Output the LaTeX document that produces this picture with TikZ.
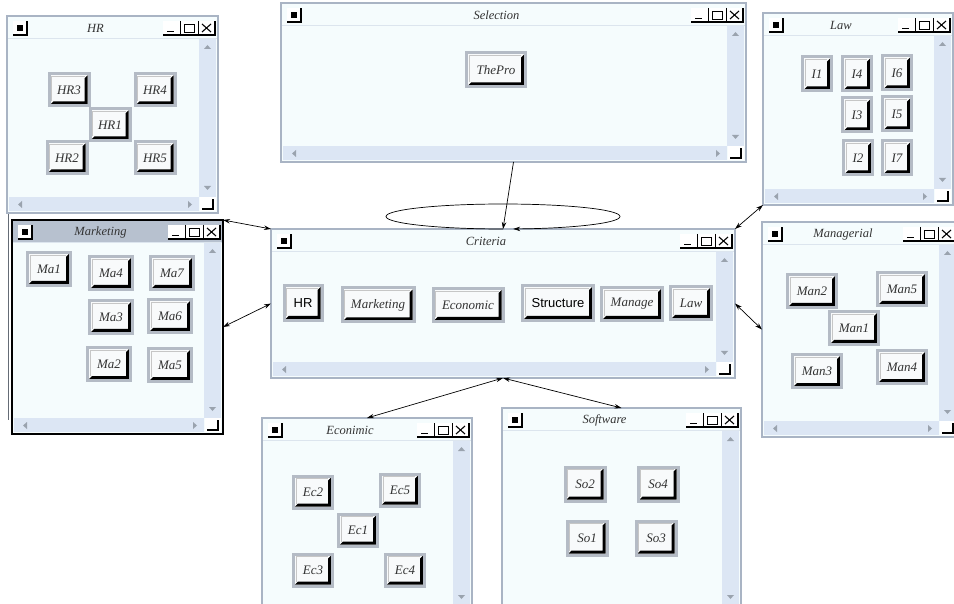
\documentclass[tikz,border=0pt]{standalone}
\usepackage{fontspec}
\setmainfont{Liberation Serif}
\newfontfamily\arialfont{Liberation Sans}
\usetikzlibrary{arrows.meta}
\definecolor{winbg}{HTML}{F5FCFD}
\definecolor{framecol}{HTML}{A9B4C4}
\definecolor{sepcol}{HTML}{DCE5EE}
\definecolor{trackcol}{HTML}{DCE6F4}
\definecolor{btnedge}{HTML}{B4BBC5}
\definecolor{btnface}{HTML}{F8FAFB}
\definecolor{btntext}{HTML}{333333}
\definecolor{mkttitle}{HTML}{B7C1CF}
\definecolor{arrowgray}{HTML}{9AA3AE}
\tikzset{
  win/.style={draw=framecol, line width=2pt, fill=winbg, inner sep=0pt, outer sep=0pt},
  wintitle/.style={font=\itshape\fontsize{12.5}{13}\selectfont, text=btntext, inner sep=0pt},
  btn/.style={draw=btnedge, line width=3pt, fill=btnface, inner sep=0pt, outer sep=0pt,
    font=\itshape\fontsize{13}{13}\selectfont, text=btntext,
    path picture={
      \draw[gray!45, line width=0.8pt]
        ([xshift=2.6pt,yshift=4.5pt]path picture bounding box.south west) --
        ([xshift=2.6pt,yshift=-2.6pt]path picture bounding box.north west) --
        ([xshift=-4.5pt,yshift=-2.6pt]path picture bounding box.north east);
      \fill[black]
        ([xshift=-1.5pt,yshift=-1.5pt]path picture bounding box.north east) --
        ([xshift=-1.5pt,yshift=1.5pt]path picture bounding box.south east) --
        ([xshift=1.5pt,yshift=1.5pt]path picture bounding box.south west) --
        ([xshift=4.5pt,yshift=4.5pt]path picture bounding box.south west) --
        ([xshift=-4.5pt,yshift=4.5pt]path picture bounding box.south east) --
        ([xshift=-4.5pt,yshift=-4.5pt]path picture bounding box.north east) -- cycle;
    }},
  sansbtn/.style={font=\arialfont\fontsize{13}{13}\selectfont, text=black},
  hrb/.style={btn, minimum width=40pt, minimum height=32pt},
  lawb/.style={btn, minimum width=29pt, minimum height=34pt},
  mab/.style={btn, minimum width=43pt, minimum height=33pt},
  manb/.style={btn, minimum width=49pt, minimum height=33pt},
  ecb/.style={btn, minimum width=39pt, minimum height=32pt},
  sob/.style={btn, minimum width=40pt, minimum height=34pt},
  link/.style={line width=0.7pt, {Stealth[length=7pt,width=4.5pt]}-{Stealth[length=7pt,width=4.5pt]}},
  onelink/.style={line width=0.7pt, -{Stealth[length=7pt,width=4.5pt]}},
}
% #1 name, #2 x1, #3 y1, #4 x2, #5 y2, #6 title, #7 title bar colour
\newcommand{\drawwin}[7]{%
  \node[win, minimum width={(#4-#2)*1pt}, minimum height={(#5-#3)*1pt}] (#1) at ({(#2+#4)/2},{(#3+#5)/2}) {};
  \fill[#7] ({#2+1},{#3+1}) rectangle ({#4-1},{#3+22});
  \draw[sepcol, line width=1pt] ({#2+1},{#3+22.5}) -- ({#4-1},{#3+22.5});
  \node[wintitle] (#1-title) at ({(#2+#4)/2-17},{#3+12}) {#6};
  \fill[white] ({#2+6},{#3+5}) rectangle ({#2+20},{#3+19});
  \draw[black, line width=1.2pt] ({#2+6},{#3+19}) -- ({#2+20},{#3+19}) -- ({#2+20},{#3+5});
  \fill[black] ({#2+10},{#3+9}) rectangle ({#2+16},{#3+15});
  \fill[white] ({#4-55},{#3+5}) rectangle ({#4-3},{#3+19});
  \draw[black, line width=1.2pt] ({#4-55},{#3+19}) -- ({#4-3},{#3+19}) -- ({#4-3},{#3+5});
  \draw[black, line width=1pt] ({#4-38},{#3+5}) -- ({#4-38},{#3+19}) ({#4-20},{#3+5}) -- ({#4-20},{#3+19});
  \draw[black, line width=1.8pt] ({#4-51},{#3+15.5}) -- ({#4-44},{#3+15.5});
  \draw[black, line width=0.9pt] ({#4-34},{#3+8}) rectangle ({#4-24},{#3+16});
  \draw[black, line width=1.8pt] ({#4-34},{#3+8.5}) -- ({#4-24},{#3+8.5});
  \draw[black, line width=1.1pt] ({#4-16},{#3+8}) -- ({#4-7},{#3+16}) ({#4-16},{#3+16}) -- ({#4-7},{#3+8});
  \fill[trackcol] ({#4-19},{#3+23}) rectangle ({#4-2},{#5-16});
  \fill[arrowgray] ({#4-14},{#3+33}) -- ({#4-7},{#3+33}) -- ({#4-10.5},{#3+29}) -- cycle;
  \fill[arrowgray] ({#4-14},{#5-27}) -- ({#4-7},{#5-27}) -- ({#4-10.5},{#5-23}) -- cycle;
  \fill[trackcol] ({#2+2},{#5-16}) rectangle ({#4-19},{#5-2});
  \fill[arrowgray] ({#2+15},{#5-12}) -- ({#2+15},{#5-5}) -- ({#2+11},{#5-8.5}) -- cycle;
  \fill[arrowgray] ({#4-30},{#5-12}) -- ({#4-30},{#5-5}) -- ({#4-26},{#5-8.5}) -- cycle;
  \fill[white] ({#4-18},{#5-16}) rectangle ({#4-2},{#5-2});
  \draw[black, line width=1.3pt] ({#4-16},{#5-4}) -- ({#4-5},{#5-4}) -- ({#4-5},{#5-14});
}
\begin{document}
\begin{tikzpicture}[x=1pt,y=-1pt]
\useasboundingbox (0,0) rectangle (954,604);
\clip (0,0) rectangle (954,604);
\fill[white] (0,0) rectangle (954,604);

% ---------- windows ----------
\drawwin{hrw}{7}{16}{218}{213}{HR}{winbg}
\drawwin{selw}{281}{3}{746}{162}{Selection}{winbg}
\drawwin{laww}{763}{13}{953}{205}{Law}{winbg}
\drawwin{mktw}{12}{220}{223}{434}{Marketing}{mkttitle}
\draw[black, line width=2.5pt] (mktw.north west) rectangle (mktw.south east);
\draw[framecol!60!black, line width=0.8pt] (8,214) -- (8,420);
\drawwin{critw}{271}{229}{735}{378}{Criteria}{winbg}
\drawwin{manw}{762}{222}{958}{437}{Managerial}{winbg}
\drawwin{ecow}{262}{418}{472}{622}{Econimic}{winbg}
\drawwin{sofw}{502}{408}{741}{622}{Software}{winbg}

% ---------- HR ----------
\node[hrb] (hr3) at (69,90) {HR3};
\node[hrb] (hr4) at (155,90) {HR4};
\node[hrb] (hr1) at (110,125) {HR1};
\node[hrb] (hr2) at (67,158) {HR2};
\node[hrb] (hr5) at (155,158) {HR5};

% ---------- Selection ----------
\node[btn, minimum width=59pt, minimum height=34pt] (thepro) at (496,70) {ThePro};

% ---------- Law ----------
\node[lawb] (l1) at (817,74) {I1};
\node[lawb] (l4) at (857,74) {I4};
\node[lawb] (l6) at (897,73) {I6};
\node[lawb] (l3) at (857,115) {I3};
\node[lawb] (l5) at (897,114) {I5};
\node[lawb] (l2) at (858,158) {I2};
\node[lawb] (l7) at (897,158) {I7};

% ---------- Marketing ----------
\node[mab] (ma1) at (49,269) {Ma1};
\node[mab] (ma4) at (111,273) {Ma4};
\node[mab] (ma7) at (172,273) {Ma7};
\node[mab] (ma3) at (111,317) {Ma3};
\node[mab] (ma6) at (170,316) {Ma6};
\node[mab] (ma2) at (109,364) {Ma2};
\node[mab] (ma5) at (170,365) {Ma5};

% ---------- Criteria ----------
\node[btn, sansbtn, minimum width=38pt, minimum height=35pt] (chr) at (303,303) {HR};
\node[btn, minimum width=72pt, minimum height=34pt] (cmkt) at (378,305) {Marketing};
\node[btn, minimum width=70pt, minimum height=33pt] (ceco) at (468,305) {Economic};
\node[btn, sansbtn, minimum width=71pt, minimum height=35pt] (cstr) at (558,303) {Structure};
\node[btn, minimum width=61pt, minimum height=33pt] (cman) at (632,304) {Manage};
\node[btn, minimum width=41pt, minimum height=33pt] (claw) at (691,303) {Law};

% ---------- Managerial ----------
\node[manb] (man2) at (812,291) {Man2};
\node[manb] (man5) at (902,289) {Man5};
\node[manb] (man1) at (854,328) {Man1};
\node[manb] (man3) at (817,371) {Man3};
\node[manb] (man4) at (902,367) {Man4};

% ---------- Econimic ----------
\node[ecb] (ec2) at (313,492) {Ec2};
\node[ecb] (ec5) at (400,490) {Ec5};
\node[ecb] (ec1) at (358,530) {Ec1};
\node[ecb] (ec3) at (313,570) {Ec3};
\node[ecb] (ec4) at (405,570) {Ec4};

% ---------- Software ----------
\node[sob] (so2) at (585,484) {So2};
\node[sob] (so4) at (658,484) {So4};
\node[sob] (so1) at (587,538) {So1};
\node[sob] (so3) at (656,538) {So3};

% ---------- connectors ----------
\draw[onelink] (selw.south) -- (critw.north);
\draw[onelink] (critw.north) arc[start angle=90, end angle=445, x radius=117, y radius=12.5];
\draw[link] (mktw.north east) -- (critw.north west);
\draw[link] (mktw.east) -- (critw.west);
\draw[link] (critw.north east) -- (laww.south west);
\draw[link] (critw.east) -- (manw.west);
\draw[link] (critw.south) -- (ecow.north);
\draw[link] (critw.south) -- (sofw.north);
\end{tikzpicture}
\end{document}
